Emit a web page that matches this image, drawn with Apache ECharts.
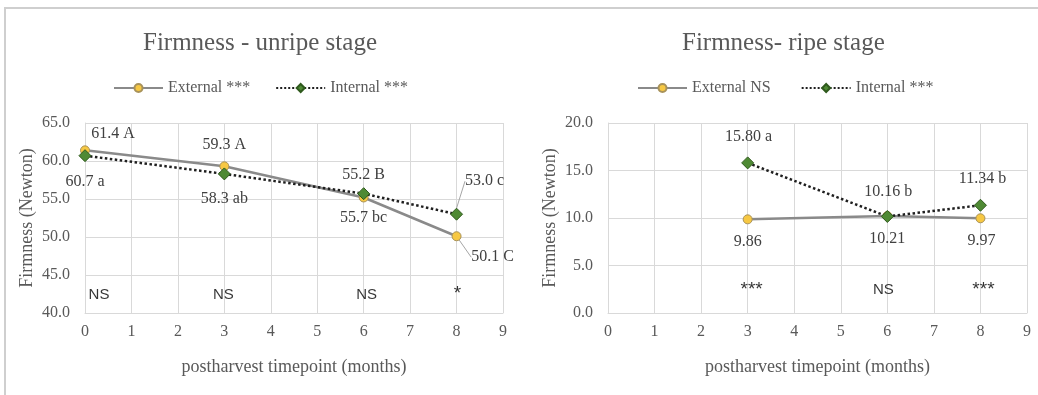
<!DOCTYPE html>
<html>
<head>
<meta charset="utf-8">
<script src="https://cdn.jsdelivr.net/npm/echarts@6/dist/echarts.min.js"></script>
<style>
  html, body { margin: 0; padding: 0; background: #ffffff; }
  #chart { width: 1038px; height: 395px; }
</style>
</head>
<body>
<div id="chart"></div>
<script>
// ---- data: unripe stage ----
const unripeMonths = [0, 3, 6, 8];
const unripeExternal = [61.4, 59.3, 55.2, 50.1];
const unripeInternal = [60.7, 58.3, 55.7, 53.0];
const unripeExternalLetters = ['A', 'A', 'B', 'C'];
const unripeInternalLetters = ['a', 'ab', 'bc', 'c'];
const unripeSignificance = ['NS', 'NS', 'NS', '*'];

// ---- data: ripe stage ----
const ripeMonths = [3, 6, 8];
const ripeExternal = [9.86, 10.21, 9.97];
const ripeInternal = [15.80, 10.16, 11.34];
const ripeInternalLetters = ['a', 'b', 'b'];
const ripeSignificance = ['***', 'NS', '***'];

// ---- axis ticks ----
const xTicks = { min: 0, max: 9, interval: 1 };
const unripeYTicks = { min: 40, max: 65, interval: 5 };
const ripeYTicks = { min: 0, max: 20, interval: 5 };

// ---- label placement (pixel shifts from each marker) ----
const unripeExtShift = [[28, -17], [0, -22], [0, -23], [36, 21]];
const unripeIntShift = [[0, 26], [0, 25], [0, 24], [28, -33]];
const unripeExtGuide = [false, false, false, true];
const unripeIntGuide = [false, false, false, true];
const ripeExtShift = [[0, 22], [0, 23], [1, 23]];
const ripeIntShift = [[1, -26], [1, -25], [2, -26]];
const unripeSigShift = [[14, 1], [-1, 1], [3, 1], [1, 0]];
const ripeSigShift = [[4, 0], [-4, 0], [3, 0]];

const SERIF = '"Liberation Serif", "Times New Roman", serif';
const SANS = '"Liberation Sans", Arial, sans-serif';
const GREY_TEXT = '#595959';
const GRID_LINE = '#d9d9d9';

function buildPoints(xs, ys, labels, guides) {
  return xs.map((x, i) => ({
    value: [x, ys[i]],
    label: { formatter: labels[i] },
    labelLine: { show: !!(guides && guides[i]) }
  }));
}

function layoutFrom(shifts) {
  return function (params) {
    const s = shifts[params.dataIndex] || [0, 0];
    return { dx: s[0], dy: s[1] };
  };
}

const unripeExtLabels = unripeExternal.map((v, i) => v.toFixed(1) + ' ' + unripeExternalLetters[i]);
const unripeIntLabels = unripeInternal.map((v, i) => v.toFixed(1) + ' ' + unripeInternalLetters[i]);
const ripeExtLabels = ripeExternal.map(v => v.toFixed(2));
const ripeIntLabels = ripeInternal.map((v, i) => v.toFixed(2) + ' ' + ripeInternalLetters[i]);

const externalStyle = {
  type: 'line',
  symbol: 'circle',
  symbolSize: 9,
  itemStyle: { color: '#f7c843', borderColor: '#a8925a', borderWidth: 1 },
  lineStyle: { color: '#8a8a8a', width: 2.5 },
  z: 3
};
const internalStyle = {
  type: 'line',
  symbol: 'diamond',
  symbolSize: 12,
  itemStyle: { color: '#4f8a34', borderColor: '#2f5a1d', borderWidth: 1 },
  lineStyle: { color: '#1f1f1f', width: 2.5, type: 'dotted' },
  z: 4
};
const pointLabel = {
  show: true,
  position: 'inside',
  fontFamily: SERIF,
  fontSize: 16,
  color: '#404040'
};
const guideLine = { lineStyle: { color: '#a6a6a6', width: 1 }, smooth: false };

function sigSeries(xIdx, xs, texts, yFrac, yTicks, shifts) {
  const yVal = yTicks.min + yFrac * (yTicks.max - yTicks.min);
  return {
    type: 'scatter',
    xAxisIndex: xIdx,
    yAxisIndex: xIdx,
    silent: true,
    symbolSize: 0.01,
    itemStyle: { color: 'transparent' },
    data: xs.map((x, i) => ({
      value: [x, yVal],
      label: {
        formatter: texts[i],
        offset: shifts[i],
        // asterisks read small in this face, so they get a larger size
        fontSize: texts[i].indexOf('*') >= 0 ? 19 : 15
      }
    })),
    label: {
      show: true,
      position: 'inside',
      fontFamily: SANS,
      color: '#000000'
    },
    z: 5
  };
}

function xAxisCfg(gridIndex) {
  return {
    type: 'value',
    gridIndex: gridIndex,
    min: xTicks.min, max: xTicks.max, interval: xTicks.interval,
    name: 'postharvest timepoint (months)',
    nameLocation: 'middle',
    nameGap: 45,
    nameTextStyle: { fontFamily: SERIF, fontSize: 18, color: GREY_TEXT },
    axisLine: { show: true, lineStyle: { color: GRID_LINE, width: 1 } },
    axisTick: { show: false },
    axisLabel: { fontFamily: SERIF, fontSize: 16, color: GREY_TEXT, margin: 11 },
    splitLine: { show: true, lineStyle: { color: GRID_LINE, width: 1 } }
  };
}

function yAxisCfg(gridIndex, t) {
  return {
    type: 'value',
    gridIndex: gridIndex,
    min: t.min, max: t.max, interval: t.interval,
    name: 'Firmness (Newton)',
    nameLocation: 'middle',
    nameGap: 49,
    nameTextStyle: { fontFamily: SERIF, fontSize: 18, color: GREY_TEXT },
    axisLine: { show: true, lineStyle: { color: GRID_LINE, width: 1 } },
    axisTick: { show: false },
    axisLabel: {
      fontFamily: SERIF, fontSize: 16, color: GREY_TEXT, margin: 15,
      formatter: v => v.toFixed(1)
    },
    splitLine: { show: true, lineStyle: { color: GRID_LINE, width: 1 } }
  };
}

const legendText = { fontFamily: SERIF, fontSize: 16, color: GREY_TEXT };

const option = {
  backgroundColor: '#ffffff',
  animation: false,
  title: [
    {
      text: 'Firmness - unripe stage',
      left: 138, top: 26,
      textStyle: { fontFamily: SERIF, fontSize: 25, fontWeight: 'normal', color: GREY_TEXT }
    },
    {
      text: 'Firmness- ripe stage',
      left: 677, top: 26,
      textStyle: { fontFamily: SERIF, fontSize: 25, fontWeight: 'normal', color: GREY_TEXT }
    }
  ],
  legend: [
    {
      data: ['External ***', 'Internal ***'],
      left: 108, top: 75,
      itemWidth: 49, itemHeight: 10, itemGap: 25,
      textStyle: legendText
    },
    {
      data: ['External NS', 'Internal ***'],
      left: 632, top: 75,
      itemWidth: 49, itemHeight: 10, itemGap: 30,
      textStyle: legendText
    }
  ],
  grid: [
    { left: 85, top: 123, width: 418, height: 190 },
    { left: 608, top: 123, width: 419, height: 190 }
  ],
  xAxis: [xAxisCfg(0), xAxisCfg(1)],
  yAxis: [yAxisCfg(0, unripeYTicks), yAxisCfg(1, ripeYTicks)],
  graphic: [
    {
      type: 'polyline',
      silent: true,
      shape: { points: [[5, 395], [5, 8], [1038, 8]] },
      style: { stroke: '#cfcfcf', lineWidth: 2, fill: null }
    }
  ],
  series: [
    Object.assign({}, externalStyle, {
      name: 'External ***',
      xAxisIndex: 0, yAxisIndex: 0,
      data: buildPoints(unripeMonths, unripeExternal, unripeExtLabels, unripeExtGuide),
      label: pointLabel,
      labelLine: guideLine,
      labelLayout: layoutFrom(unripeExtShift)
    }),
    Object.assign({}, internalStyle, {
      name: 'Internal ***',
      xAxisIndex: 0, yAxisIndex: 0,
      data: buildPoints(unripeMonths, unripeInternal, unripeIntLabels, unripeIntGuide),
      label: pointLabel,
      labelLine: guideLine,
      labelLayout: layoutFrom(unripeIntShift)
    }),
    Object.assign({}, externalStyle, {
      name: 'External NS',
      xAxisIndex: 1, yAxisIndex: 1,
      data: buildPoints(ripeMonths, ripeExternal, ripeExtLabels),
      label: pointLabel,
      labelLayout: layoutFrom(ripeExtShift)
    }),
    Object.assign({}, internalStyle, {
      name: 'Internal ***',
      xAxisIndex: 1, yAxisIndex: 1,
      data: buildPoints(ripeMonths, ripeInternal, ripeIntLabels),
      label: pointLabel,
      labelLayout: layoutFrom(ripeIntShift)
    }),
    sigSeries(0, unripeMonths, unripeSignificance, 0.1, unripeYTicks, unripeSigShift),
    sigSeries(1, ripeMonths, ripeSignificance, 0.12, ripeYTicks, ripeSigShift)
  ]
};

const chart = echarts.init(document.getElementById('chart'), null, { renderer: 'canvas' });
chart.setOption(option);
</script>
</body>
</html>
